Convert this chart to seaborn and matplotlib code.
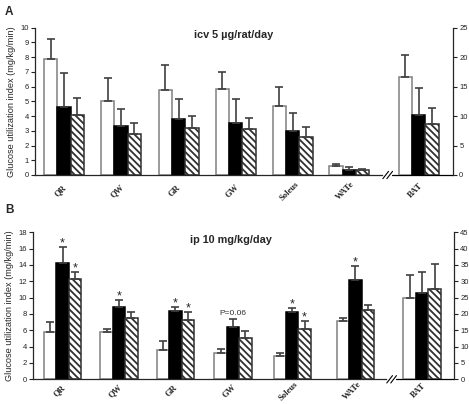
import numpy as np
import pandas as pd
import matplotlib
matplotlib.use("Agg")
import matplotlib.pyplot as plt
import matplotlib.transforms as mtransforms
import seaborn as sns

# ---------------- data ----------------
groups = ["Control", "Treated", "Pair-fed"]
muscles = ["QR", "QW", "GR", "GW", "Soleus"]
fats = ["WATe", "BAT"]

# Panel A (icv) - muscles on left axis (mg/kg/min), fats on right axis
a_muscle_ctrl = [7.9, 5.0, 5.8, 5.82, 4.68]
a_muscle_trt = [4.62, 3.3, 3.77, 3.5, 3.0]
a_muscle_pf = [4.05, 2.75, 3.16, 3.09, 2.58]
a_muscle_ctrl_top = [9.2, 6.6, 7.5, 7.0, 5.95]
a_muscle_trt_top = [6.95, 4.5, 5.15, 5.15, 4.2]
a_muscle_pf_top = [5.25, 3.5, 4.0, 3.9, 3.24]
a_fat_ctrl = [1.48, 16.7]
a_fat_trt = [0.9, 10.2]
a_fat_pf = [0.8, 8.7]
a_fat_ctrl_top = [1.8, 20.3]
a_fat_trt_top = [1.3, 14.7]
a_fat_pf_top = [1.0, 11.3]

# Panel B (ip)
b_muscle_ctrl = [5.78, 5.77, 3.55, 3.25, 2.88]
b_muscle_trt = [14.25, 8.8, 8.4, 6.45, 8.22]
b_muscle_pf = [12.3, 7.55, 7.25, 5.1, 6.2]
b_muscle_ctrl_top = [7.0, 6.17, 4.73, 3.75, 3.17]
b_muscle_trt_top = [16.25, 9.75, 8.9, 7.4, 8.7]
b_muscle_pf_top = [13.1, 8.3, 8.2, 5.9, 7.15]
b_fat_ctrl = [17.8, 25.0]
b_fat_trt = [30.3, 26.5]
b_fat_pf = [21.2, 27.7]
b_fat_ctrl_top = [18.8, 31.9]
b_fat_trt_top = [34.7, 32.7]
b_fat_pf_top = [22.7, 35.2]

# significance marks: (tissue, group)
b_stars = [("QR", "Treated"), ("QR", "Pair-fed"), ("QW", "Treated"),
           ("GR", "Treated"), ("GR", "Pair-fed"), ("Soleus", "Treated"),
           ("Soleus", "Pair-fed"), ("WATe", "Treated")]
b_pnote = ("GW", "Treated", "P=0.06")

# ---------------- layout ----------------
W, H = 469, 404
posA = {"QR": 0, "QW": 1.0, "GR": 2.01, "GW": 3.01, "Soleus": 4.01, "WATe": 5.0, "BAT": 6.22}
posB = {"QR": 0, "QW": 0.99, "GR": 1.98, "GW": 2.99, "Soleus": 4.03, "WATe": 5.14, "BAT": 6.31}
bwA, bwB = 0.233, 0.218

sns.set_style("ticks")
plt.rcParams['font.family'] = ['Liberation Sans', 'DejaVu Sans']
plt.rcParams['hatch.linewidth'] = 1.3

fig = plt.figure(figsize=(W / 100, H / 100), dpi=100)

def frame(tissues, ctrl, trt, pf, ctop, ttop, ptop, pos):
    rows = []
    for i, t in enumerate(tissues):
        for g, v, tp in zip(groups, (ctrl[i], trt[i], pf[i]), (ctop[i], ttop[i], ptop[i])):
            rows.append({"tissue": t, "group": g, "value": v, "top": tp, "x": pos[t]})
    return pd.DataFrame(rows)

def draw_bars(ax, df, bw):
    xs = np.sort(df["x"].unique())
    mind = np.min(np.diff(xs)) if len(xs) > 1 else 1.0
    sns.barplot(data=df, x="x", y="value", hue="group", hue_order=groups,
                palette=["white", "black", "white"], native_scale=True,
                width=3 * bw / mind, errorbar=None, legend=False, ax=ax,
                linewidth=1.1, saturation=1)
    conts = list(ax.containers)
    for p in conts[0]:
        p.set_edgecolor("#808080")
    for p in conts[1]:
        p.set_edgecolor("black")
    for p in conts[2]:
        p.set_edgecolor("#303030")
        p.set_hatch("\\\\\\\\\\")
    offs = {"Control": -bw, "Treated": 0.0, "Pair-fed": bw}
    ex = df["x"] + df["group"].map(offs)
    err = df["top"] - df["value"]
    ax.errorbar(ex, df["value"], yerr=[np.zeros(len(df)), err], fmt="none",
                ecolor="#404040", elinewidth=1.2, capsize=2.6, capthick=1.2, zorder=1)
    return ex

def style_axes(ax, ax2, pos, xlim, ylim, yticks, ylim2, yticks2, brk, xpad):
    ax.set_xlim(*xlim)
    ax2.set_xlim(*xlim)
    ax.set_ylim(*ylim)
    ax.set_yticks(yticks)
    ax2.set_ylim(*ylim2)
    ax2.set_yticks(yticks2)
    for s in ["top", "right"]:
        ax.spines[s].set_visible(False)
    for s in ["top", "left", "bottom"]:
        ax2.spines[s].set_visible(False)
    ax2.spines["right"].set_visible(True)
    for a in (ax, ax2):
        a.tick_params(axis="y", length=3, width=0.8, labelsize=5.5, pad=1.5, colors="#222222")
        a.set_xlabel("")
    ax.spines["left"].set_linewidth(0.9)
    ax2.spines["right"].set_linewidth(0.9)
    ax.spines["bottom"].set_linewidth(0.9)
    ax2.set_ylabel("")
    ax.set_ylabel("Glucose utilization index (mg/kg/min)", fontsize=6.6, labelpad=3)
    cats = muscles + fats
    ax.set_xticks([pos[c] for c in cats])
    ax.set_xticklabels(cats, rotation=45, ha="center", va="center", rotation_mode="anchor",
                       family="Liberation Serif", fontweight="bold", fontsize=6.2)
    ax.tick_params(axis="x", length=0, pad=xpad)
    shift = mtransforms.ScaledTranslation(-3.5 / 100, 0, fig.dpi_scale_trans)
    for lab in ax.get_xticklabels():
        lab.set_transform(lab.get_transform() + shift)
    ax2.tick_params(axis="x", length=0, labelbottom=False)
    # broken x axis
    ax.spines["bottom"].set_bounds(xlim[0], brk[0])
    tr = ax.get_xaxis_transform()
    ax.plot([brk[1], xlim[1]], [0, 0], transform=tr, color="black", lw=0.9, clip_on=False)
    for dx in (0.0, 0.07):
        ax.plot([brk[0] + 0.02 + dx, brk[0] + 0.12 + dx], [-0.025, 0.025], transform=tr,
                color="black", lw=0.8, clip_on=False)

# ---------------- Panel A ----------------
axA = fig.add_axes([35 / W, 1 - 175 / H, (453 - 35) / W, (175 - 27.7) / H])
axA2 = axA.twinx()
dfA_m = frame(muscles, a_muscle_ctrl, a_muscle_trt, a_muscle_pf,
              a_muscle_ctrl_top, a_muscle_trt_top, a_muscle_pf_top, posA)
dfA_f = frame(fats, a_fat_ctrl, a_fat_trt, a_fat_pf,
              a_fat_ctrl_top, a_fat_trt_top, a_fat_pf_top, posA)
draw_bars(axA, dfA_m, bwA)
draw_bars(axA2, dfA_f, bwA)
style_axes(axA, axA2, posA, (-0.51, 6.82), (0, 10), range(0, 11), (0, 25), range(0, 26, 5),
           (5.57, 5.75), 11.5)
axA.text(0.475, 0.95, "icv 5 µg/rat/day", transform=axA.transAxes, fontsize=7.8,
         fontweight="bold", ha="center", va="center")

# ---------------- Panel B ----------------
axB = fig.add_axes([33 / W, 1 - 379.3 / H, (454 - 33) / W, (379.3 - 232.3) / H])
axB2 = axB.twinx()
dfB_m = frame(muscles, b_muscle_ctrl, b_muscle_trt, b_muscle_pf,
              b_muscle_ctrl_top, b_muscle_trt_top, b_muscle_pf_top, posB)
dfB_f = frame(fats, b_fat_ctrl, b_fat_trt, b_fat_pf,
              b_fat_ctrl_top, b_fat_trt_top, b_fat_pf_top, posB)
exm = draw_bars(axB, dfB_m, bwB)
exf = draw_bars(axB2, dfB_f, bwB)
style_axes(axB, axB2, posB, (-0.52, 6.87), (0, 18), range(0, 19, 2), (0, 45), range(0, 46, 5),
           (5.67, 5.86), 8.3)
axB.text(0.47, 0.945, "ip 10 mg/kg/day", transform=axB.transAxes, fontsize=7.8,
         fontweight="bold", ha="center", va="center")

for (t, g) in b_stars:
    if t in muscles:
        df, ex, a = dfB_m, exm, axB
    else:
        df, ex, a = dfB_f, exf, axB2
    m = (df["tissue"] == t) & (df["group"] == g)
    a.annotate("*", xy=(ex[m].iloc[0], df["top"][m].iloc[0]), xytext=(0, 2.5),
               textcoords="offset points", ha="center", va="center", fontsize=9)
t, g, note = b_pnote
m = (dfB_m["tissue"] == t) & (dfB_m["group"] == g)
axB.annotate(note, xy=(exm[m].iloc[0], dfB_m["top"][m].iloc[0]), xytext=(0, 1.5),
             textcoords="offset points", ha="center", va="bottom", fontsize=6, color="#333333")

fig.text(5 / W, 1 - 12 / H, "A", fontsize=8.5, fontweight="bold", va="center")
fig.text(5 / W, 1 - 210 / H, "B", fontsize=8.5, fontweight="bold", va="center")

fig.savefig("out.png", dpi=100)
